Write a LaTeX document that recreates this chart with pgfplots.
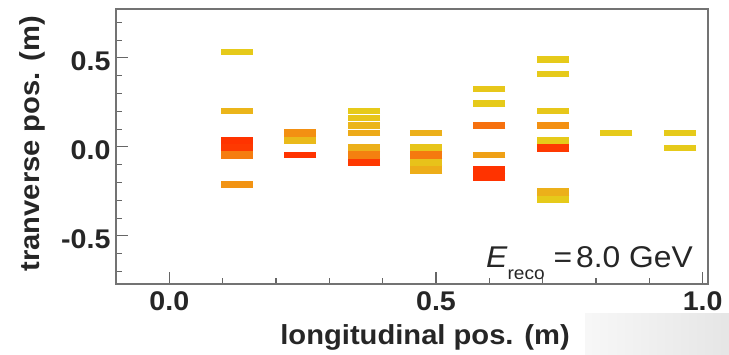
\documentclass[border=0pt]{standalone}
\usepackage{fontspec}
\setmainfont{Liberation Sans}[FakeStretch=1.06]
\usepackage{pgfplots}
\pgfplotsset{compat=1.18}
% cells drawn at full bin height (contiguous blocks)
\pgfplotstableread{
x y c
0.126 0.037 4
0.126 -0.005 3.9
0.126 -0.046 2.6
0.245 0.078 2
0.245 0.037 0.6
0.365 -0.005 1
0.365 -0.046 2.5
0.365 -0.088 3.9
0.482 -0.005 0.2
0.482 -0.046 2.7
0.482 -0.088 0.3
0.482 -0.129 1.1
0.600 -0.129 4
0.600 -0.170 4
0.720 0.037 0
0.720 -0.005 3.9
0.720 -0.253 1
0.720 -0.295 0
}\blockcells
% isolated cells (drawn slightly thinner, as in the reference)
\pgfplotstableread{
x y c
0.126 0.534 0
0.126 0.202 0.8
0.126 -0.212 1.9
0.245 -0.046 4
0.365 0.202 0
0.365 0.161 0.2
0.365 0.120 0.8
0.365 0.078 1.2
0.482 0.078 1
0.600 0.327 0.1
0.600 0.244 0
0.600 0.120 3
0.600 -0.046 1.5
0.720 0.492 0
0.720 0.409 0
0.720 0.202 0.1
0.720 0.120 2
0.838 0.078 0
0.958 0.078 0
0.958 -0.005 0
}\singlecells
\begin{document}
\begin{tikzpicture}
\begin{axis}[
  name=ax,
  scale only axis, width=592pt, height=275pt,
  xmin=-0.1, xmax=1.01, ymin=-0.77, ymax=0.775,
  axis line style={draw=black!55, line width=1.4pt},
  tick style={draw=black!60, line width=1.1pt},
  tick align=inside, tick pos=left,
  xtick={0,0.5,1}, xticklabels={0.0,0.5,1.0},
  minor xtick={-0.1,0.1,0.2,0.3,0.4,0.6,0.7,0.8,0.9},
  ytick={-0.5,0,0.5}, yticklabels={-0.5,0.0,0.5},
  minor ytick={-0.7,-0.6,-0.4,-0.3,-0.2,-0.1,0.1,0.2,0.3,0.4,0.6,0.7},
  major tick length=12pt, minor tick length=6pt,
  ticklabel style={font=\bfseries\fontsize{27}{27}\selectfont, text=black!85},
  xticklabel style={yshift=-4pt},
  yticklabel style={xshift=-2pt, yshift=-3pt},
  xlabel={longitudinal pos. (m)}, ylabel={tranverse pos. (m)},
  xlabel style={at={(axis description cs:0.522,-0.2218)}, anchor=base,
    font=\bfseries\fontsize{27.5}{27.5}\selectfont, text=black!85},
  ylabel style={at={(axis description cs:-0.1284,0.51)}, anchor=base,
    font=\bfseries\fontsize{27.5}{27.5}\selectfont, text=black!85},
  colormap={heat}{rgb255(0cm)=(230,202,26) rgb255(1cm)=(236,176,26) rgb255(2cm)=(243,144,18) rgb255(3cm)=(246,112,14) rgb255(4cm)=(255,51,0)},
  point meta min=0, point meta max=4,
]
\addplot[scatter, only marks, mark=-, mark size=16pt, point meta=explicit,
  scatter/use mapped color={draw=mapped color, fill=mapped color},
  mark options={line width=7.4pt}] table[meta=c] {\blockcells};
\addplot[scatter, only marks, mark=-, mark size=16pt, point meta=explicit,
  scatter/use mapped color={draw=mapped color, fill=mapped color},
  mark options={line width=6.4pt}] table[meta=c] {\singlecells};
\node[anchor=base east, inner sep=0pt, font=\fontsize{30}{30}\selectfont, text=black!85]
  at (rel axis cs:0.9747,0.0618)
  {\textit{E}\raisebox{-12pt}{\fontsize{18}{18}\selectfont reco} =\hspace{4pt}8.0 GeV};
\end{axis}
\shade[left color=white!97!black, right color=white!90!black]
  ([xshift=-123pt,yshift=-29pt]ax.south east) rectangle ([xshift=21pt,yshift=-70pt]ax.south east);
\pgfresetboundingbox
\path ([xshift=-116pt,yshift=-70pt]ax.south west) rectangle ([xshift=21pt,yshift=9pt]ax.north east);
\end{tikzpicture}
\end{document}
